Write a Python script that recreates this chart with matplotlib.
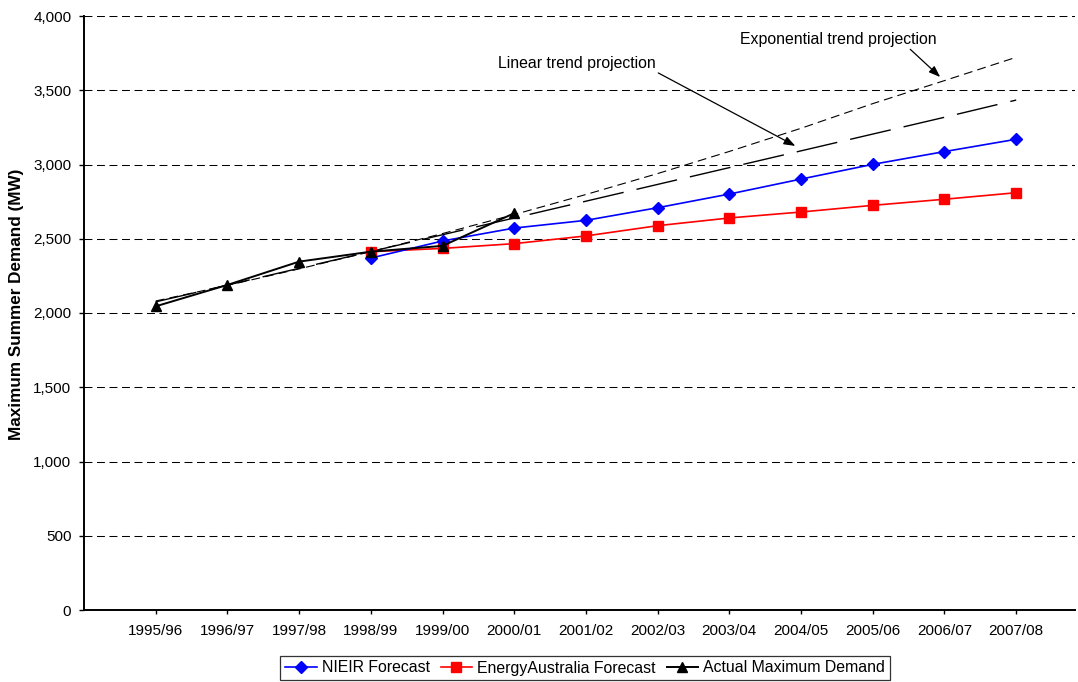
import matplotlib
matplotlib.use("Agg")
import matplotlib.pyplot as plt
from matplotlib.ticker import FuncFormatter, FixedLocator

plt.rcParams['font.family'] = ['Liberation Sans', 'DejaVu Sans']

years = ["1995/96", "1996/97", "1997/98", "1998/99", "1999/00", "2000/01", "2001/02",
         "2002/03", "2003/04", "2004/05", "2005/06", "2006/07", "2007/08"]

# Forecasts start in 1998/99, actuals run to 2000/01
nieir_forecast = [None, None, None, 2370, 2485, 2572, 2624, 2709, 2801, 2902, 3001, 3087, 3170]
ea_forecast = [None, None, None, 2413, 2435, 2467, 2519, 2588, 2640, 2680, 2725, 2766, 2810]
actual_demand = [2045, 2189, 2346, 2413, 2452, 2672, None, None, None, None, None, None, None]

# Trend projections fitted to the actual demand
linear_trend = [2075, 2188, 2301, 2414, 2527, 2640, 2753, 2866, 2979, 3092, 3205, 3318, 3434]
exponential_trend = [2081, 2186, 2297, 2413, 2535, 2663, 2798, 2939, 3088, 3244, 3410, 3565, 3722]

y_ticks = [0, 500, 1000, 1500, 2000, 2500, 3000, 3500, 4000]

x = list(range(len(years)))


def series(vals):
    xs = [i for i, v in zip(x, vals) if v is not None]
    ys = [v for v in vals if v is not None]
    return xs, ys


fig = plt.figure(figsize=(10.78, 6.82), dpi=100)
ax = fig.add_axes([84 / 1078, 1 - 610 / 682, (1075 - 84) / 1078, (610 - 16) / 682])

ax.set_xlim(-1.0, 12.82)
ax.set_ylim(0, 4000)

# dashed horizontal gridlines
for v in y_ticks[1:]:
    ax.axhline(v, color='black', lw=0.75, linestyle=(0, (7.6, 4.4)), zorder=1)

# trend projections
ax.plot(x, linear_trend, color='black', lw=1.0, linestyle=(0, (30, 9.5)), zorder=2)
ax.plot(x, exponential_trend, color='black', lw=0.8, linestyle=(0, (8, 4.6)), zorder=2)

xs, ys = series(nieir_forecast)
ax.plot(xs, ys, color='#0000FF', lw=1.2, marker='D', markersize=6.6,
        label='NIEIR Forecast', zorder=4)
xs, ys = series(ea_forecast)
ax.plot(xs, ys, color='#FF0000', lw=1.2, marker='s', markersize=6.8,
        label='EnergyAustralia Forecast', zorder=3)
xs, ys = series(actual_demand)
ax.plot(xs, ys, color='black', lw=1.4, marker='^', markersize=7.2,
        label='Actual Maximum Demand', zorder=5)

# annotations for the projections
ax.annotate('Linear trend projection', xy=(8.92, 3125), xytext=(4.77, 3677),
            fontsize=11.4, ha='left', va='center',
            arrowprops=dict(arrowstyle='-|>,head_length=0.6,head_width=0.22',
                            color='black', lw=0.9, shrinkA=0, shrinkB=0,
                            relpos=(1.0, 0.0)))
ax.annotate('Exponential trend projection', xy=(10.94, 3589), xytext=(8.15, 3845),
            fontsize=11.4, ha='left', va='center',
            arrowprops=dict(arrowstyle='-|>,head_length=0.6,head_width=0.22',
                            color='black', lw=0.9, shrinkA=0, shrinkB=0,
                            relpos=(0.85, 0.0)))

# axes styling
for side in ('top', 'right'):
    ax.spines[side].set_visible(False)
ax.spines['left'].set_linewidth(1.4)
ax.spines['bottom'].set_linewidth(1.4)

ax.xaxis.set_major_locator(FixedLocator(x))
ax.set_xticklabels(years)
ax.yaxis.set_major_locator(FixedLocator(y_ticks))
ax.yaxis.set_major_formatter(FuncFormatter(lambda v, p: f"{int(v):,}"))
ax.tick_params(axis='x', direction='out', length=3, width=1, pad=7, labelsize=11)
ax.tick_params(axis='y', direction='out', length=3.6, width=1, pad=5.5, labelsize=11)

fig.text(17 / 1078, 1 - 304 / 682, 'Maximum Summer Demand (MW)', rotation=90,
         ha='center', va='center', fontsize=12.3, fontweight='bold')

leg = fig.legend(loc='center', bbox_to_anchor=(585 / 1078, 1 - 668 / 682), ncol=3,
                 fontsize=11.4, frameon=True, fancybox=False, handlelength=2.0,
                 handletextpad=0.3, columnspacing=0.7, borderpad=0.3,
                 borderaxespad=0)
leg.get_frame().set_edgecolor('black')
leg.get_frame().set_linewidth(0.9)

fig.savefig('out.png', dpi=100)
